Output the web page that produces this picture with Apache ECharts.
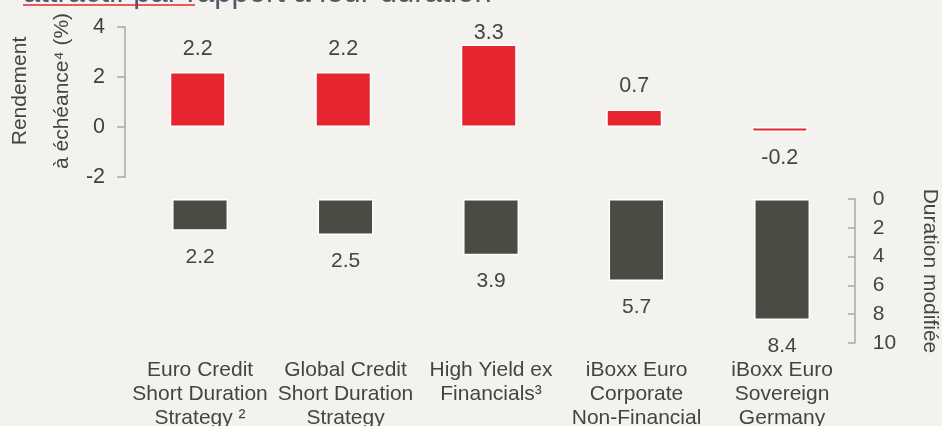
<!DOCTYPE html>
<html>
<head>
<meta charset="utf-8">
<script src="https://cdn.jsdelivr.net/npm/echarts@6/dist/echarts.min.js"></script>
<style>
  html, body { margin: 0; padding: 0; background: #f3f2ef; }
  #chart { width: 942px; height: 426px; }
</style>
</head>
<body>
<div id="chart"></div>
<script>
// catégories (axe x du graphe du bas)
const categories = [
  'Euro Credit\nShort Duration\nStrategy \u00b2',
  'Global Credit\nShort Duration\nStrategy',
  'High Yield ex\nFinancials\u00b3',
  'iBoxx Euro\nCorporate\nNon-Financial',
  'iBoxx Euro\nSovereign\nGermany',
];
// rendement à échéance (%)
const yields = [2.2, 2.2, 3.3, 0.7, -0.2];
// duration modifiée
const durations = [2.2, 2.5, 3.9, 5.7, 8.4];

const RED = '#e52630';
const DARK = '#4a4b42';
const TEXT = '#45453f';
const AXIS = '#a8a8a8';
const FONT = '"Liberation Sans", Arial, sans-serif';

const chart = echarts.init(document.getElementById('chart'), null, { renderer: 'canvas' });

const maxYield = Math.max(...yields);

const option = {
  backgroundColor: '#f3f2ef',
  animation: false,
  textStyle: { fontFamily: FONT },
  grid: [
    { left: 125, width: 727.5, top: 27, height: 150, outerBoundsMode: 'none' },
    { left: 127.3, width: 727.5, top: 199, height: 144, outerBoundsMode: 'none' },
  ],
  xAxis: [
    {
      gridIndex: 0,
      type: 'category',
      data: categories,
      axisLine: { show: false },
      axisTick: { show: false },
      axisLabel: { show: false },
    },
    {
      gridIndex: 1,
      type: 'category',
      data: categories,
      position: 'bottom',
      axisLine: { show: false },
      axisTick: { show: false },
      axisLabel: {
        interval: 0,
        margin: 15,
        fontSize: 21,
        lineHeight: 24,
        color: TEXT,
        fontFamily: FONT,
      },
    },
  ],
  yAxis: [
    {
      gridIndex: 0,
      type: 'value',
      min: -2,
      max: 4,
      interval: 2,
      axisLine: { show: true, lineStyle: { color: AXIS, width: 1.5 } },
      axisTick: { show: true, length: 8, lineStyle: { color: AXIS, width: 1.5 } },
      axisLabel: { fontSize: 21.5, margin: 20, color: '#3f3f3f', fontFamily: FONT },
      splitLine: { show: false },
    },
    {
      gridIndex: 1,
      type: 'value',
      position: 'right',
      inverse: true,
      min: 0,
      max: 10,
      interval: 2,
      axisLine: { show: true, lineStyle: { color: AXIS, width: 1.5 } },
      axisTick: { show: true, inside: true, length: 7, lineStyle: { color: AXIS, width: 1.5 } },
      axisLabel: { fontSize: 21, margin: 18, color: TEXT, fontFamily: FONT },
      splitLine: { show: false },
      name: 'Duration modifiée',
      nameLocation: 'middle',
      nameRotate: -90,
      nameGap: 64,
      nameTextStyle: { fontSize: 21, color: TEXT, fontFamily: FONT },
    },
  ],
  series: [
    {
      type: 'bar',
      xAxisIndex: 0,
      yAxisIndex: 0,
      barWidth: 56,
      itemStyle: { color: RED, borderColor: '#ffffff', borderWidth: 1.5 },
      label: {
        show: true,
        position: 'top',
        distance: 12,
        fontSize: 21.5,
        color: TEXT,
        fontFamily: FONT,
        formatter: (p) => p.value.toFixed(1),
      },
      data: yields.map((v) => {
        if (v < 0) return { value: v, label: { position: 'bottom', distance: 15 } };
        if (v === maxYield) return { value: v, label: { distance: 0 } };
        return v;
      }),
    },
    {
      type: 'bar',
      xAxisIndex: 1,
      yAxisIndex: 1,
      barWidth: 56,
      itemStyle: { color: DARK, borderColor: '#ffffff', borderWidth: 1.5 },
      label: {
        show: true,
        position: 'bottom',
        distance: 16,
        fontSize: 21,
        color: TEXT,
        fontFamily: FONT,
        formatter: (p) => p.value.toFixed(1),
      },
      data: durations,
    },
  ],
  graphic: [
    {
      type: 'text',
      left: 23,
      top: -22.5,
      style: {
        text: 'attractif par rapport à leur duration',
        font: '31px ' + FONT,
        fill: '#4f5a66',
      },
    },
    {
      type: 'line',
      shape: { x1: 23, y1: 5, x2: 195, y2: 5 },
      style: { stroke: RED, lineWidth: 1.5 },
    },
    {
      type: 'text',
      x: 20,
      y: 91,
      rotation: Math.PI / 2,
      style: {
        text: 'Rendement',
        font: '21px ' + FONT,
        fill: TEXT,
        align: 'center',
        verticalAlign: 'middle',
      },
    },
    {
      type: 'text',
      x: 62,
      y: 91,
      rotation: Math.PI / 2,
      style: {
        text: 'à échéance\u2074 (%)',
        font: '21px ' + FONT,
        fill: TEXT,
        align: 'center',
        verticalAlign: 'middle',
      },
    },
  ],
};

chart.setOption(option);
window.addEventListener('resize', () => chart.resize());
</script>
</body>
</html>
